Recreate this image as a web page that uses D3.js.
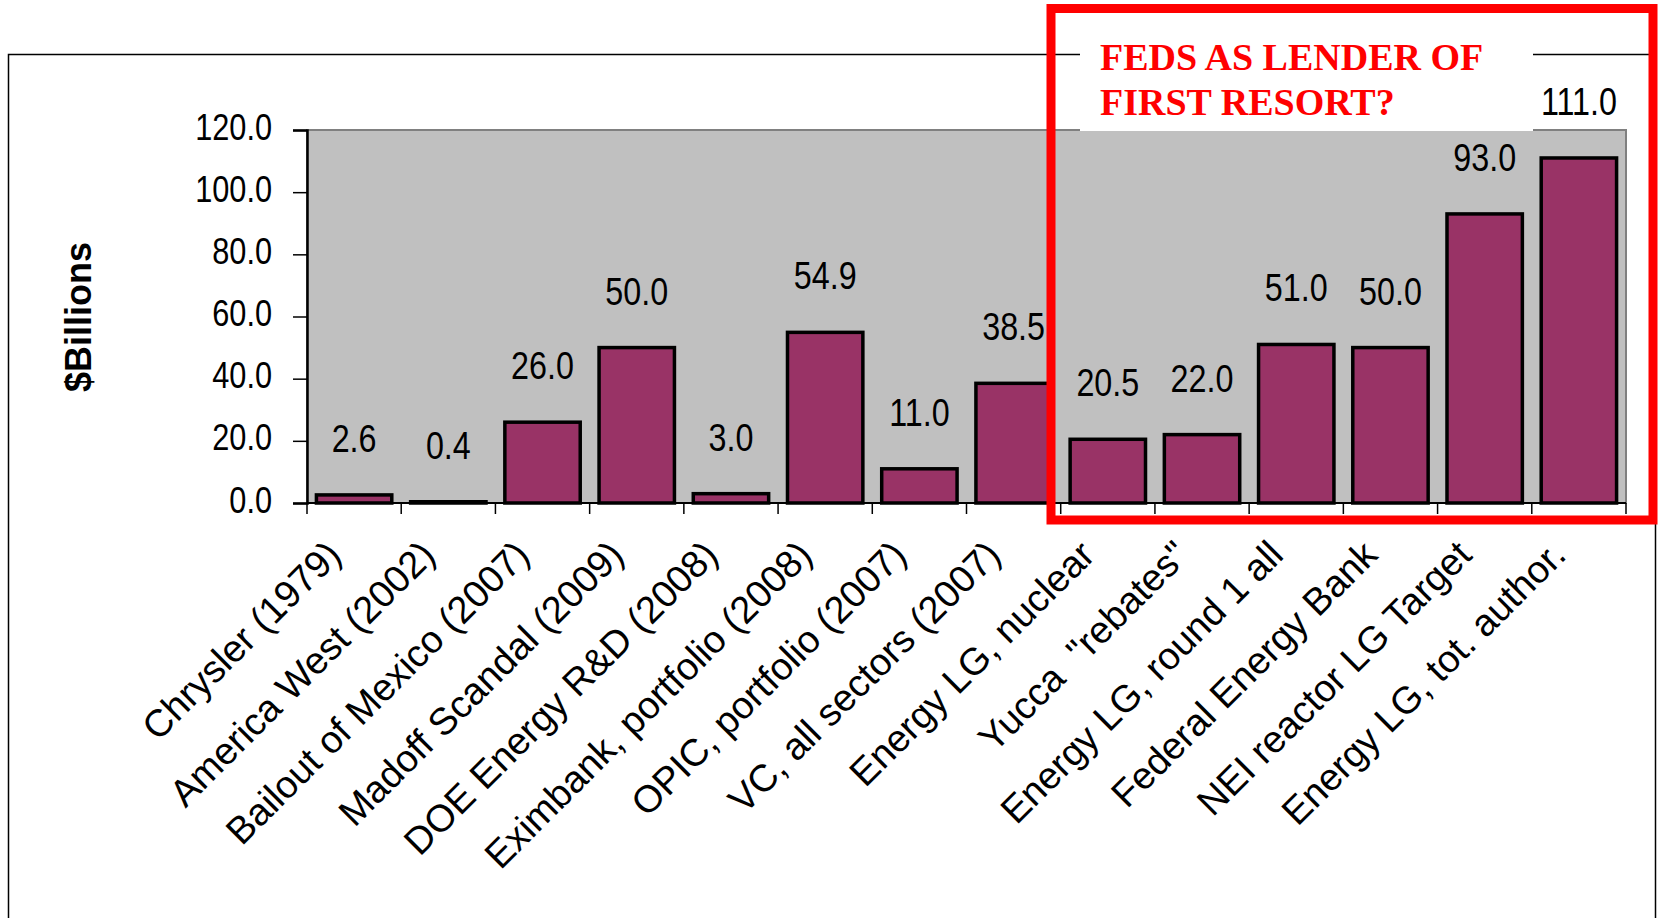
<!DOCTYPE html>
<html>
<head>
<meta charset="utf-8">
<script src="https://cdn.jsdelivr.net/npm/d3@7"></script>
<style>
	body { margin: 0; background: #fff; }
	svg { display: block; }
	.num { font-family: "Liberation Sans Narrow", "Arial Narrow", "Liberation Sans", sans-serif; font-size: 38px; fill: #000; }
	.cat { font-family: "Liberation Sans", Arial, sans-serif; font-size: 38px; fill: #000; }
</style>
</head>
<body>
<div id="chart"></div>
<script>
let categories = [
	"Chrysler (1979)",
	"America West (2002)",
	"Bailout of Mexico (2007)",
	"Madoff Scandal (2009)",
	"DOE Energy R&D (2008)",
	"Eximbank, portfolio (2008)",
	"OPIC, portfolio (2007)",
	"VC, all sectors (2007)",
	"Energy LG, nuclear",
	"Yucca  \"rebates\"",
	"Energy LG, round 1 all",
	"Federal Energy Bank",
	"NEI reactor LG Target",
	"Energy LG, tot. author.",
];

let values = [2.6, 0.4, 26.0, 50.0, 3.0, 54.9, 11.0, 38.5, 20.5, 22.0, 51.0, 50.0, 93.0, 111.0];

let yTicks = [0, 20, 40, 60, 80, 100, 120];

let yTitle = "$Billions";
let noteLines = ["FEDS AS LENDER OF", "FIRST RESORT?"];

var w = 1658,
	h = 918;

let plotLeft = 307,
	plotRight = 1626,
	plotTop = 130,
	plotBottom = 503;

// the numbers are in a narrow face; squeeze the regular one
let narrow = 0.83;

let svg = d3
	.select("#chart")
	.append("svg")
	.attr("width", w)
	.attr("height", h);

// outer chart frame (runs off the bottom of the picture)
svg
	.append("rect")
	.attr("x", 8.5)
	.attr("y", 54.5)
	.attr("width", 1647)
	.attr("height", 900)
	.attr("fill", "none")
	.attr("stroke", "#000")
	.attr("stroke-width", 1.5);

let x = d3
	.scaleBand()
	.domain(categories)
	.range([plotLeft, plotRight])
	.paddingInner(0.2)
	.paddingOuter(0.1);

let y = d3.scaleLinear().domain([0, 120]).range([plotBottom, plotTop]);

// plot area
svg
	.append("rect")
	.attr("x", plotLeft)
	.attr("y", plotTop)
	.attr("width", plotRight - plotLeft)
	.attr("height", plotBottom - plotTop)
	.attr("fill", "#c0c0c0")
	.attr("stroke", "#808080")
	.attr("stroke-width", 2);

// y axis
let yAxis = svg
	.append("g")
	.attr("transform", "translate(" + plotLeft + ",0)")
	.call(
		d3
			.axisLeft(y)
			.tickValues(yTicks)
			.tickSize(14)
			.tickPadding(21)
			.tickFormat(d3.format(".1f"))
	);
yAxis.select(".domain").attr("stroke", "#000").attr("stroke-width", 2.5);
yAxis.selectAll(".tick line").attr("stroke", "#000").attr("stroke-width", 1.5);
yAxis
	.selectAll(".tick text")
	.attr("class", "num")
	.attr("dy", null)
	.attr("x", -35 / narrow)
	.attr("y", 9)
	.style("font-size", "37px")
	.attr("transform", "scale(" + narrow + ",1)");

// x axis: ticks between the bars, as Excel draws them
let step = x.step();
let bounds = d3.range(categories.length + 1).map((i) => plotLeft + i * step);

svg
	.append("line")
	.attr("x1", plotLeft)
	.attr("x2", plotRight)
	.attr("y1", plotBottom)
	.attr("y2", plotBottom)
	.attr("stroke", "#000")
	.attr("stroke-width", 2);

svg
	.selectAll(".xtick")
	.data(bounds)
	.enter()
	.append("line")
	.attr("class", "xtick")
	.attr("x1", (d) => d)
	.attr("x2", (d) => d)
	.attr("y1", plotBottom)
	.attr("y2", plotBottom + 11)
	.attr("stroke", "#000")
	.attr("stroke-width", 1.5);

// bars
svg
	.selectAll(".bar")
	.data(values)
	.enter()
	.append("rect")
	.attr("class", "bar")
	.attr("x", (d, i) => x(categories[i]))
	.attr("y", (d) => y(d))
	.attr("width", x.bandwidth())
	.attr("height", (d) => plotBottom - y(d))
	.attr("fill", "#993366")
	.attr("stroke", "#000")
	.attr("stroke-width", 3.5);

// data labels
svg
	.selectAll(".val")
	.data(values)
	.enter()
	.append("text")
	.attr("class", "num")
	.attr("text-anchor", "middle")
	.attr("transform", (d, i) => {
		let cx = x(categories[i]) + x.bandwidth() / 2;
		return "translate(" + cx + "," + (y(d) - 43) + ") scale(0.85,1)";
	})
	.text((d) => d.toFixed(1));

// category labels, rotated
svg
	.selectAll(".cat")
	.data(categories)
	.enter()
	.append("text")
	.attr("class", "cat")
	.attr("text-anchor", "end")
	.attr("transform", function (d) {
		let cx = x(d) + x.bandwidth() / 2;
		return "translate(" + (cx - 11) + "," + (plotBottom + 54) + ") rotate(-45)";
	})
	.style("white-space", "pre")
	.text((d) => d);

// y title
svg
	.append("text")
	.attr("transform", "translate(91,317) rotate(-90)")
	.attr("text-anchor", "middle")
	.style("font-family", "'Liberation Sans', Arial, sans-serif")
	.style("font-size", "36px")
	.style("font-weight", "bold")
	.text(yTitle);

// annotation box
svg
	.append("rect")
	.attr("x", 1080)
	.attr("y", 28)
	.attr("width", 453)
	.attr("height", 103)
	.attr("fill", "#fff");

svg
	.append("text")
	.attr("x", 1100)
	.attr("y", 70)
	.attr("fill", "#ff0000")
	.style("font-family", "'Liberation Serif', 'Times New Roman', serif")
	.style("font-size", "38px")
	.style("font-weight", "bold")
	.selectAll("tspan")
	.data(noteLines)
	.enter()
	.append("tspan")
	.attr("x", 1100)
	.attr("dy", (d, i) => (i === 0 ? 0 : 45))
	.text((d) => d);

svg
	.append("rect")
	.attr("x", 1051)
	.attr("y", 8.5)
	.attr("width", 602)
	.attr("height", 511.5)
	.attr("fill", "none")
	.attr("stroke", "#ff0000")
	.attr("stroke-width", 9);
</script>
</body>
</html>
